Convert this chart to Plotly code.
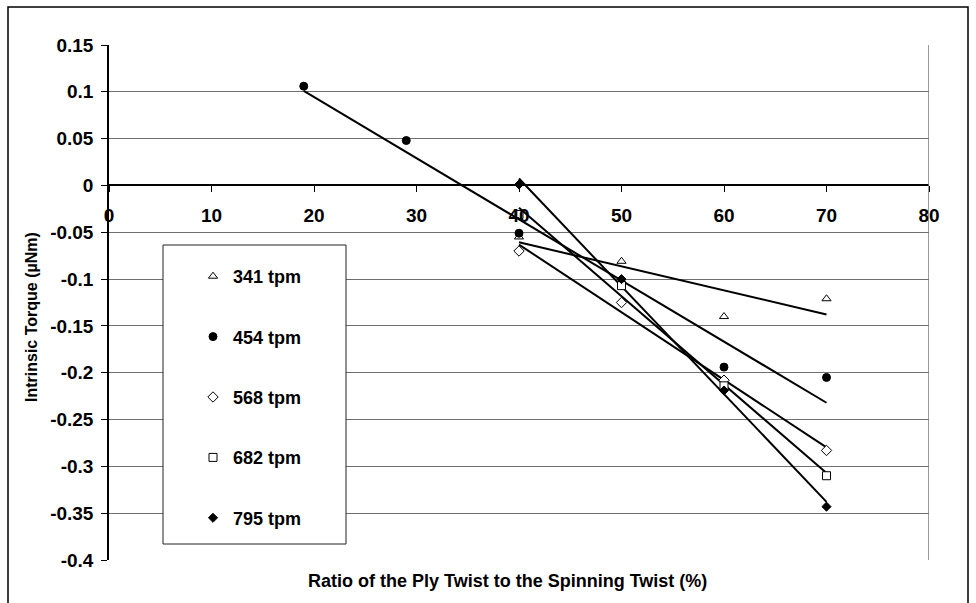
import numpy as np
import plotly.graph_objects as go

# Ratio of ply twist to spinning twist (%) and intrinsic torque (uNm) per spinning speed
series_names = ["341 tpm", "454 tpm", "568 tpm", "682 tpm", "795 tpm"]
x_341 = [40, 50, 60, 70]
y_341 = [-0.055, -0.081, -0.140, -0.121]
x_454 = [19, 29, 40, 50, 60, 70]
y_454 = [0.106, 0.048, -0.051, -0.104, -0.194, -0.205]
x_568 = [40, 50, 60, 70]
y_568 = [-0.070, -0.125, -0.208, -0.283]
x_682 = [40, 50, 60, 70]
y_682 = [-0.031, -0.107, -0.214, -0.310]
x_795 = [40, 50, 60, 70]
y_795 = [0.001, -0.100, -0.219, -0.343]

y_tick_vals = [0.15, 0.1, 0.05, 0, -0.05, -0.1, -0.15, -0.2, -0.25, -0.3, -0.35, -0.4]
y_tick_text = ["0.15", "0.1", "0.05", "0", "-0.05", "-0.1", "-0.15", "-0.2",
               "-0.25", "-0.3", "-0.35", "-0.4"]
x_tick_vals = [0, 10, 20, 30, 40, 50, 60, 70, 80]

xs = [x_341, x_454, x_568, x_682, x_795]
ys = [y_341, y_454, y_568, y_682, y_795]
symbols = ["triangle-up", "circle", "diamond", "square", "diamond"]
fills = ["white", "black", "white", "white", "black"]
sizes = [8, 8, 8, 8, 7]

FONT = "Liberation Sans, Arial, sans-serif"

fig = go.Figure()

# Linear trend line for each series, spanning its own x range
for name, x, y in zip(series_names, xs, ys):
    k, b = np.polyfit(x, y, 1)
    xe = np.array([min(x), max(x)], dtype=float)
    fig.add_trace(go.Scatter(
        x=xe, y=k * xe + b, mode="lines",
        line=dict(color="black", width=2),
        showlegend=False, hoverinfo="skip", legendgroup=name,
    ))

for name, x, y, sym, fc, sz in zip(series_names, xs, ys, symbols, fills, sizes):
    fig.add_trace(go.Scatter(
        x=x, y=y, mode="markers", name=name, legendgroup=name,
        marker=dict(symbol=sym, size=sz, color=fc,
                    line=dict(color="black", width=1)),
    ))

# paper coordinates helpers for the plot geometry
L, R, T, B = 109, 929, 45, 560
def px(v):
    return (v - L) / (R - L)
def py(v):
    return (B - v) / (B - T)

shapes = [
    # outer frame of the chart
    dict(type="rect", xref="paper", yref="paper",
         x0=px(8), x1=px(968), y0=py(607), y1=py(7),
         line=dict(color="black", width=1.5), fillcolor="rgba(0,0,0,0)", layer="below"),
    # right border of the plot area
    dict(type="line", xref="x", yref="y", x0=80, x1=80, y0=-0.4, y1=0.15,
         line=dict(color="#7a7a7a", width=1.5)),
    # legend box
    dict(type="rect", xref="paper", yref="paper",
         x0=px(163), x1=px(346), y0=py(544), y1=py(245),
         line=dict(color="#222", width=1), fillcolor="white", layer="above"),
]

fig.update_layout(
    width=976, height=603,
    margin=dict(l=L, r=976 - R, t=T, b=603 - B),
    paper_bgcolor="white", plot_bgcolor="white",
    font=dict(family=FONT, color="black"),
    shapes=shapes,
    showlegend=True,
    legend=dict(
        x=px(193), y=py(258), xanchor="left", yanchor="top",
        bgcolor="rgba(0,0,0,0)", borderwidth=0,
        font=dict(family=FONT, size=18, color="black", weight="bold"),
        tracegroupgap=34, itemwidth=30,
    ),
    xaxis=dict(
        range=[0, 80], tickvals=x_tick_vals,
        showgrid=False, zeroline=False,
        showline=True, linecolor="black", linewidth=1.5,
        ticks="outside", ticklen=6, tickcolor="black",
        anchor="free", position=0.4 / 0.55,
        ticklabelstandoff=7,
        tickfont=dict(family=FONT, size=19, color="black", weight="bold"),
    ),
    yaxis=dict(
        range=[-0.4, 0.15], tickvals=y_tick_vals, ticktext=y_tick_text,
        showgrid=True, gridcolor="#6e6e6e", gridwidth=1.2, zeroline=False,
        showline=True, linecolor="black", linewidth=1.5,
        ticks="outside", ticklen=6, tickcolor="black",
        ticklabelstandoff=4,
        tickfont=dict(family=FONT, size=19, color="black", weight="bold"),
    ),
    annotations=[
        dict(text="Intrinsic Torque (µNm)", xref="paper", yref="paper",
             x=px(32), y=py(317), xanchor="center", yanchor="middle",
             textangle=-90, showarrow=False,
             font=dict(family=FONT, size=16, color="black", weight="bold")),
        dict(text="Ratio of the Ply Twist to the Spinning Twist (%)",
             xref="paper", yref="paper", x=px(507), y=py(581),
             xanchor="center", yanchor="middle", showarrow=False,
             font=dict(family=FONT, size=18, color="black", weight="bold")),
    ],
)

fig.write_html("out.html")
